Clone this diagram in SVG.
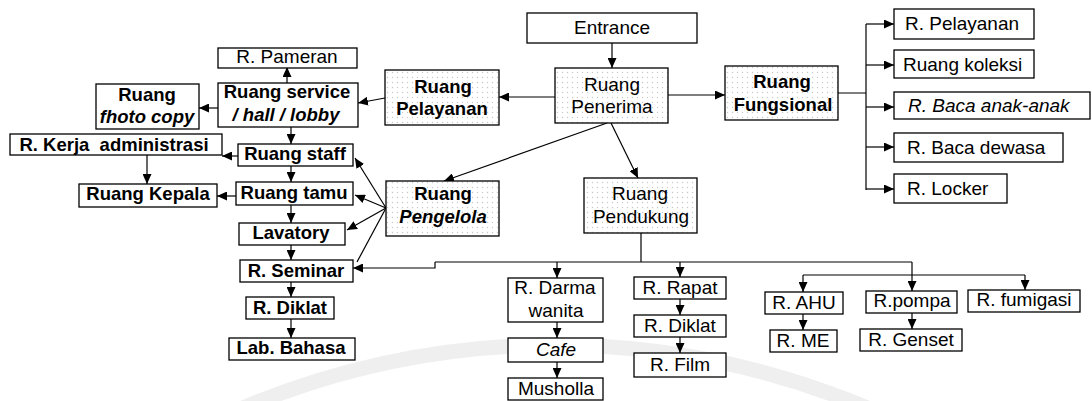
<svg xmlns="http://www.w3.org/2000/svg" width="1092" height="401" viewBox="0 0 1092 401">
<style>
.box{fill:#fff;stroke:#000;stroke-width:1.3}
.dot{fill:url(#dots);stroke:#000;stroke-width:1.3}
text{font-family:"Liberation Sans",Arial,sans-serif;font-size:19px;fill:#000;text-anchor:middle}
.b{font-weight:bold;font-size:18.5px}
.i{font-style:italic}
.l{text-anchor:start}
.c{fill:none;stroke:#000;stroke-width:1.2}
.a{marker-end:url(#ah)}
</style>
<defs>
<pattern id="dots" width="5" height="5" patternUnits="userSpaceOnUse">
<rect width="5" height="5" fill="#fff"/>
<circle cx="2.5" cy="2.5" r="0.7" fill="#c8c8c8"/>
</pattern>
<marker id="ah" markerWidth="10" markerHeight="9" refX="10" refY="4.5" orient="auto" markerUnits="userSpaceOnUse">
<path d="M0,0 L10,4.5 L0,9 z" fill="#000"/>
</marker>
</defs>
<rect width="1092" height="401" fill="#fff"/>
<g id="watermark">
<circle cx="555" cy="1150" r="805" fill="none" stroke="#efefef" stroke-width="15"/>
</g>
<g id="connectors">
<path class="c a" d="M612,43 V68"/>
<path class="c a" d="M555,97 H499"/>
<path class="c a" d="M668,95 H725"/>
<path class="c a" d="M607,123 L444,181"/>
<path class="c a" d="M611,123 L638,178"/>
<path class="c a" d="M385,98 L358,103"/>
<path class="c a" d="M287,83 V67"/>
<path class="c a" d="M218,108 H199"/>
<path class="c a" d="M291,127 V144"/>
<path class="c a" d="M238,156 H222"/>
<path class="c a" d="M147,155 V184"/>
<path class="c a" d="M291,166 V182"/>
<path class="c a" d="M236,196 H217"/>
<path class="c a" d="M291,205 V223"/>
<path class="c a" d="M291,245 V260"/>
<path class="c a" d="M291,282 V297"/>
<path class="c a" d="M291,319 V338"/>
<path class="c a" d="M386,208 L355,158"/>
<path class="c a" d="M386,208 L355,195"/>
<path class="c a" d="M386,208 L347,230"/>
<path class="c" d="M386,208 L357,262"/>
<path class="c" d="M838,93 H866 M866,24 V190"/>
<path class="c a" d="M866,24 H894"/>
<path class="c a" d="M866,65 H894"/>
<path class="c a" d="M866,107 H894"/>
<path class="c a" d="M866,147 H894"/>
<path class="c a" d="M866,189 H894"/>
<path class="c" d="M641,233 V262 M435,262 H912"/>
<path class="c a" d="M435,262 V268 H353"/>
<path class="c a" d="M557,262 V278"/>
<path class="c a" d="M680,262 V277"/>
<path class="c a" d="M912,262 V291"/>
<path class="c" d="M803,275 H1025"/>
<path class="c a" d="M803,275 V292"/>
<path class="c a" d="M1025,275 V290"/>
<path class="c a" d="M803,314 V330"/>
<path class="c a" d="M912,313 V329"/>
<path class="c a" d="M557,322 V338"/>
<path class="c a" d="M557,362 V378"/>
<path class="c a" d="M680,299 V315"/>
<path class="c a" d="M680,337 V353"/>
</g>
<g id="entrance"><rect class="box" x="527" y="13" width="170" height="30"/><text x="612" y="34">Entrance</text></g>
<g id="penerima"><rect class="dot" x="555" y="68" width="113" height="55"/><text x="612" y="91">Ruang</text><text x="612" y="113">Penerima</text></g>
<g id="fungsional"><rect class="dot" x="725" y="66" width="113" height="54"/><text class="b" x="782" y="88">Ruang</text><text class="b" x="783" y="111">Fungsional</text></g>
<g id="pelayanan"><rect class="dot" x="385" y="70" width="114" height="55"/><text class="b" x="443" y="93">Ruang</text><text class="b" x="442" y="115">Pelayanan</text></g>
<g id="service"><rect class="box" x="218" y="83" width="140" height="44"/><text class="b" x="287" y="98">Ruang service</text><text class="b i" x="286" y="121">/ hall / lobby</text></g>
<g id="pameran"><rect class="box" x="218" y="48" width="139" height="20"/><text x="287" y="63">R. Pameran</text></g>
<g id="photocopy"><rect class="box" x="96" y="84" width="103" height="45"/><text class="b" x="147" y="101">Ruang</text><text class="b i" x="147" y="123">fhoto copy</text></g>
<g id="kerja"><rect class="box" x="10" y="134" width="212" height="21"/><text class="b" x="114" y="151" xml:space="preserve">R. Kerja  administrasi</text></g>
<g id="staff"><rect class="box" x="238" y="144" width="115" height="22"/><text class="b" x="295" y="160">Ruang staff</text></g>
<g id="kepala"><rect class="box" x="79" y="184" width="138" height="23"/><text class="b" x="148" y="200">Ruang Kepala</text></g>
<g id="tamu"><rect class="box" x="236" y="182" width="117" height="23"/><text class="b" x="294" y="199">Ruang tamu</text></g>
<g id="lavatory"><rect class="box" x="239" y="223" width="106" height="22"/><text class="b" x="291" y="239">Lavatory</text></g>
<g id="seminar"><rect class="box" x="240" y="260" width="113" height="22"/><text class="b" x="296" y="277">R. Seminar</text></g>
<g id="diklat1"><rect class="box" x="246" y="297" width="88" height="22"/><text class="b" x="290" y="314">R. Diklat</text></g>
<g id="lab"><rect class="box" x="229" y="338" width="126" height="22"/><text class="b" x="291" y="354">Lab. Bahasa</text></g>
<g id="pengelola"><rect class="dot" x="386" y="181" width="113" height="55"/><text class="b" x="443" y="200">Ruang</text><text class="b i" x="443" y="223">Pengelola</text></g>
<g id="pendukung"><rect class="dot" x="584" y="178" width="113" height="55"/><text x="640" y="200">Ruang</text><text x="641" y="223">Pendukung</text></g>
<g id="r-pelayanan"><rect class="box" x="894" y="9" width="140" height="30"/><text class="l" x="905" y="30">R. Pelayanan</text></g>
<g id="koleksi"><rect class="box" x="894" y="50" width="140" height="28"/><text class="l" x="903" y="71">Ruang koleksi</text></g>
<g id="baca-anak"><rect class="box" x="894" y="92" width="196" height="27"/><text class="l i" x="908" y="112">R. Baca anak-anak</text></g>
<g id="baca-dewasa"><rect class="box" x="894" y="133" width="169" height="29"/><text class="l" x="907" y="154">R. Baca dewasa</text></g>
<g id="locker"><rect class="box" x="894" y="174" width="113" height="29"/><text class="l" x="907" y="195">R. Locker</text></g>
<g id="darma"><rect class="box" x="508" y="278" width="95" height="44"/><text x="555" y="294">R. Darma</text><text x="556" y="317">wanita</text></g>
<g id="cafe"><rect class="box" x="508" y="338" width="95" height="24"/><text class="i" x="556" y="356">Cafe</text></g>
<g id="musholla"><rect class="box" x="508" y="378" width="95" height="22"/><text x="556" y="395">Musholla</text></g>
<g id="rapat"><rect class="box" x="634" y="277" width="92" height="22"/><text x="680" y="294">R. Rapat</text></g>
<g id="diklat2"><rect class="box" x="634" y="315" width="92" height="22"/><text x="680" y="332">R. Diklat</text></g>
<g id="film"><rect class="box" x="634" y="353" width="92" height="24"/><text x="680" y="371">R. Film</text></g>
<g id="ahu"><rect class="box" x="765" y="292" width="78" height="22"/><text x="804" y="309">R. AHU</text></g>
<g id="me"><rect class="box" x="770" y="330" width="67" height="22"/><text x="803" y="347">R. ME</text></g>
<g id="pompa"><rect class="box" x="866" y="291" width="91" height="22"/><text x="912" y="307">R.pompa</text></g>
<g id="genset"><rect class="box" x="860" y="329" width="102" height="22"/><text x="911" y="346">R. Genset</text></g>
<g id="fumigasi"><rect class="box" x="968" y="290" width="112" height="22"/><text x="1024" y="306">R. fumigasi</text></g>
</svg>
